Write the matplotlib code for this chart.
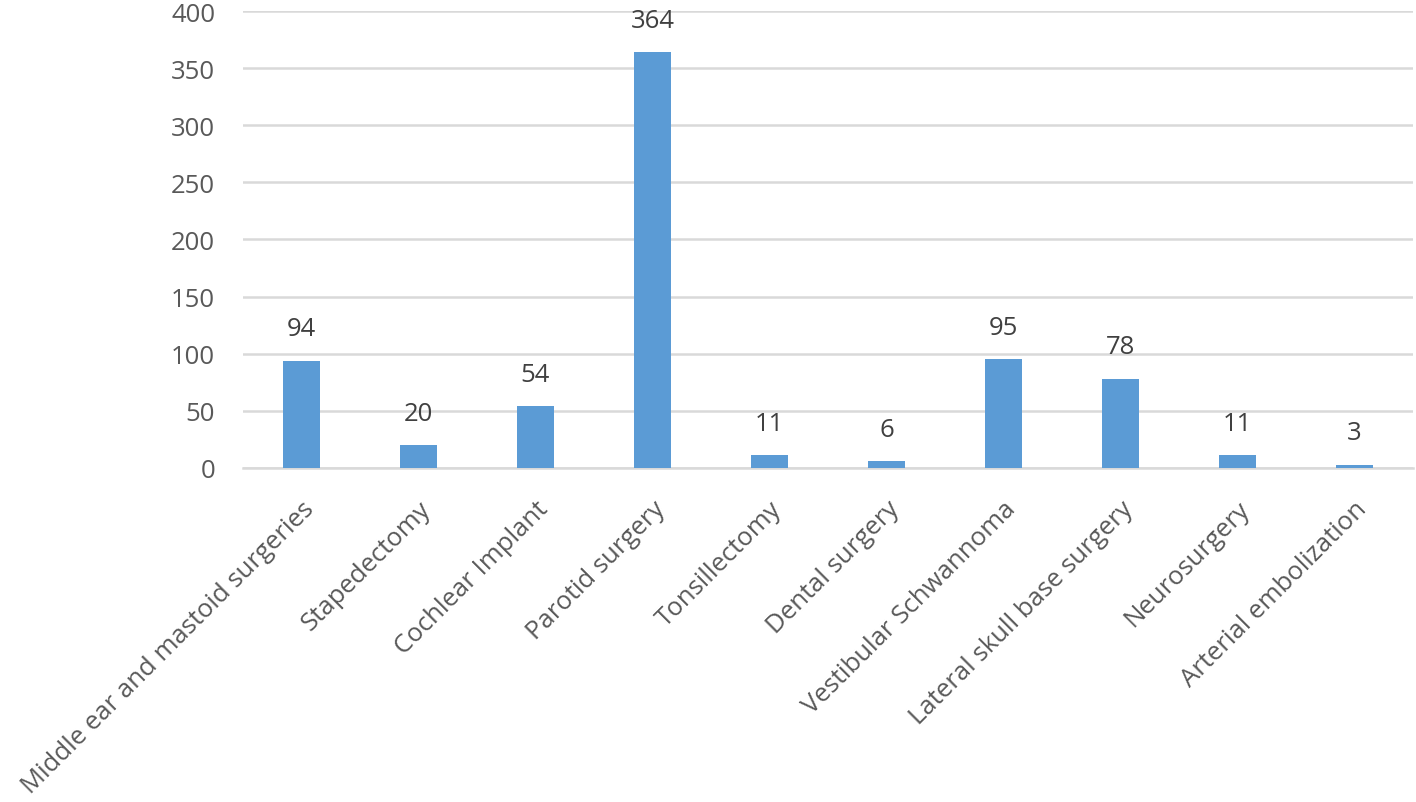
import matplotlib
matplotlib.use("Agg")
import matplotlib.pyplot as plt

categories = ["Middle ear and mastoid surgeries", "Stapedectomy", "Cochlear Implant",
              "Parotid surgery", "Tonsillectomy", "Dental surgery", "Vestibular Schwannoma",
              "Lateral skull base surgery", "Neurosurgery", "Arterial embolization"]
values = [94, 20, 54, 364, 11, 6, 95, 78, 11, 3]
yticks = [0, 50, 100, 150, 200, 250, 300, 350, 400]

plt.rcParams['font.family'] = ['Open Sans', 'DejaVu Sans']

fig = plt.figure(figsize=(14.16, 8.03), dpi=100)
ax = fig.add_axes([0.1716, 0.416, 0.8263, 0.569])

x = list(range(len(categories)))
ax.bar(x, values, width=0.31, color='#5B9BD5', zorder=3)
for xi, v in zip(x, values):
    ax.annotate(str(v), (xi, v), xytext=(0, 14), textcoords='offset points',
                ha='center', va='bottom', fontsize=18.5, color='#404040')

ax.set_xlim(-0.5, len(categories) - 0.5)
ax.set_ylim(0, 400)
ax.set_yticks(yticks)
ax.set_yticklabels([str(t) for t in yticks], fontsize=18.5, color='#595959')
ax.yaxis.grid(True, color='#D9D9D9', linewidth=1.8, zorder=0)
ax.tick_params(axis='both', length=0)
ax.tick_params(axis='y', pad=20)
for s in ['top', 'right', 'left']:
    ax.spines[s].set_visible(False)
ax.spines['bottom'].set_color('#D9D9D9')
ax.spines['bottom'].set_linewidth(1.8)

ax.set_xticks(x)
ax.set_xticklabels(categories, rotation=45, ha='right', va='top',
                   rotation_mode='anchor', fontsize=18.5, color='#595959')
ax.tick_params(axis='x', pad=20)

fig.savefig('out.png', dpi=100)
